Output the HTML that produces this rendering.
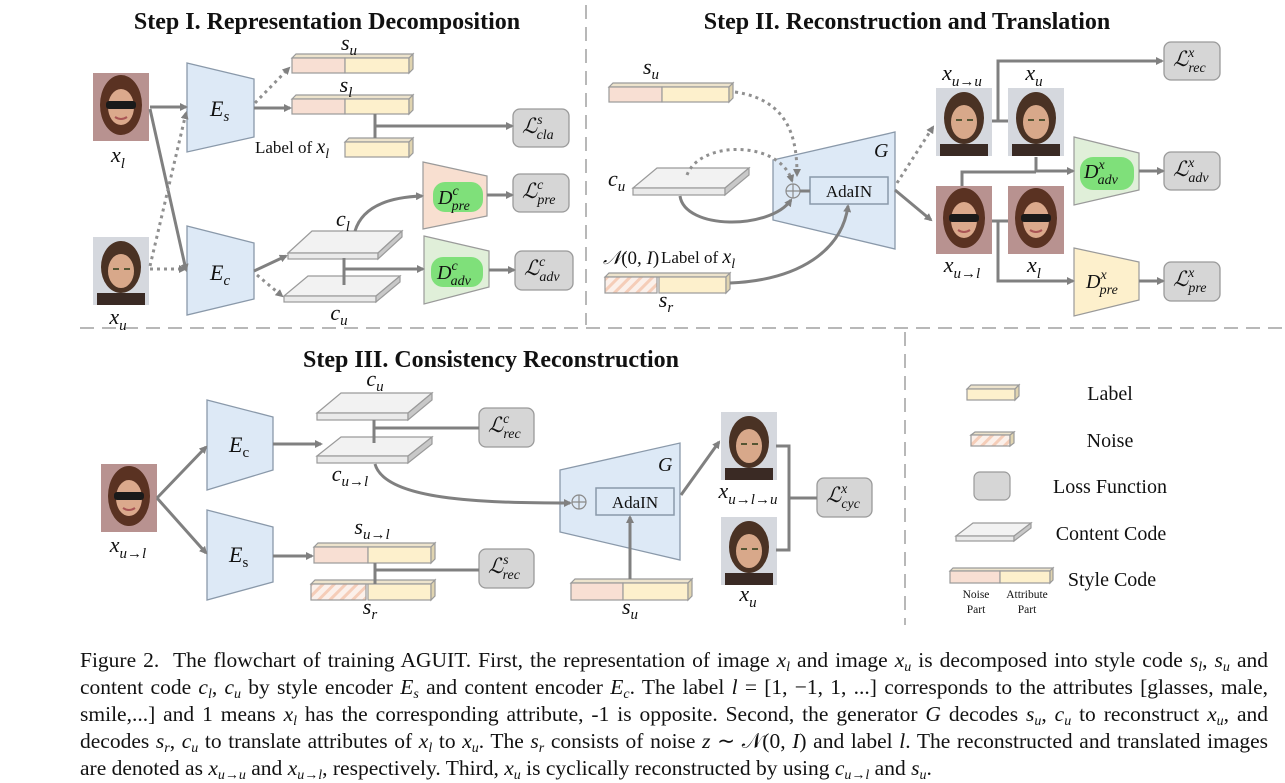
<!DOCTYPE html>
<html><head><meta charset="utf-8"><style>
body{margin:0;background:#fff;width:1285px;height:778px;overflow:hidden;position:relative;font-family:"Liberation Serif",serif}
svg{position:absolute;left:0;top:0}
.cap{position:absolute;left:80px;width:1188px;font-size:21.5px;color:#111;text-align:justify;text-align-last:justify;white-space:nowrap;line-height:22px}
.cap i{font-style:italic}
.cap sub{font-size:14px;vertical-align:-4px;line-height:0}
</style></head><body>
<svg width="1285" height="778" viewBox="0 0 1285 778" font-family="Liberation Serif, serif">
<defs>
<marker id="a" markerWidth="8" markerHeight="8" refX="6" refY="4" orient="auto" markerUnits="userSpaceOnUse" viewBox="0 0 8 8"><path d="M0,0 L8,4 L0,8 z" fill="#808080"/></marker>
<pattern id="h" width="8" height="8" patternUnits="userSpaceOnUse" patternTransform="rotate(45)"><rect width="8" height="8" fill="#fbf0ea"/><rect width="3" height="8" fill="#f5cdb8"/></pattern>
<g id="man"><rect width="56" height="68" fill="#d5d8de"/><ellipse cx="28" cy="30" rx="20" ry="26" fill="#4a3224"/><ellipse cx="28" cy="34" rx="13" ry="17" fill="#d8a88a"/><rect x="4" y="56" width="48" height="12" fill="#3a2a24"/><rect x="20" y="31" width="6" height="2" fill="#553"/><rect x="31" y="31" width="6" height="2" fill="#553"/></g>
<g id="woman"><rect width="56" height="68" fill="#b89290"/><ellipse cx="28" cy="32" rx="21" ry="30" fill="#5a3222"/><ellipse cx="28" cy="34" rx="13" ry="18" fill="#dba98c"/><rect x="13" y="28" width="30" height="8" rx="3" fill="#1a1a1a"/><path d="M22,44 q6,4 12,0" stroke="#a55" stroke-width="2" fill="none"/></g>
</defs>
<g stroke="#b8b8b8" stroke-width="2" stroke-dasharray="14 8" fill="none">
<line x1="586" y1="5" x2="586" y2="325"/><line x1="80" y1="328" x2="1282" y2="328"/><line x1="905" y1="332" x2="905" y2="625"/>
</g>
<g font-weight="bold" font-size="24" text-anchor="middle" fill="#111">
<text x="327" y="29">Step I. Representation Decomposition</text>
<text x="907" y="29">Step II. Reconstruction and Translation</text>
<text x="491" y="367">Step III. Consistency Reconstruction</text>
</g>

<!-- ===== STEP I ===== -->
<use href="#woman" x="93" y="73"/><use href="#man" x="93" y="237"/>
<g font-style="italic" font-size="22" text-anchor="middle" fill="#111">
<text x="118" y="162">x<tspan font-size="15" dy="6">l</tspan></text>
<text x="118" y="324">x<tspan font-size="15" dy="6">u</tspan></text>
</g>
<g fill="#dde9f6" stroke="#8a99aa" stroke-width="1.3">
<polygon points="187,63 254,79 254,137 187,152"/>
<polygon points="187,226 254,243 254,299 187,315"/>
</g>
<g font-style="italic" font-size="22" fill="#111">
<text x="210" y="116">E<tspan font-size="15" dy="5">s</tspan></text>
<text x="210" y="280">E<tspan font-size="15" dy="5">c</tspan></text>
</g>
<g stroke="#9a9a9a" stroke-width="1.2">
<polygon points="292,58 296,54 413,54 409,58" fill="#ede3cc"/>
<rect x="292" y="58" width="53" height="15" fill="#f8dfd3"/><rect x="345" y="58" width="64" height="15" fill="#fdf0cc"/>
<polygon points="409,58 413,54 413,69 409,73" fill="#e0d4b0"/>
<polygon points="292,99 296,95 413,95 409,99" fill="#ede3cc"/>
<rect x="292" y="99" width="53" height="15" fill="#f8dfd3"/><rect x="345" y="99" width="64" height="15" fill="#fdf0cc"/>
<polygon points="409,99 413,95 413,110 409,114" fill="#e0d4b0"/>
<polygon points="345,142 349,138 413,138 409,142" fill="#ede3cc"/>
<rect x="345" y="142" width="64" height="15" fill="#fdf0cc"/>
<polygon points="409,142 413,138 413,153 409,157" fill="#e0d4b0"/>
</g>
<g font-style="italic" font-size="22" fill="#111" text-anchor="middle">
<text x="349" y="50">s<tspan font-size="15" dy="5">u</tspan></text>
<text x="346" y="92">s<tspan font-size="15" dy="5">l</tspan></text>
</g>
<text x="255" y="153" font-size="17" fill="#111">Label of <tspan font-style="italic" font-size="20">x<tspan font-size="14" dy="5">l</tspan></tspan></text>
<g stroke="#9a9a9a" stroke-width="1.2">
<polygon points="288,253 312,231 402,231 378,253" fill="#f2f2f2"/><rect x="288" y="253" width="90" height="6" fill="#eaeaea"/><polygon points="378,253 402,231 402,237 378,259" fill="#c8c8c8"/>
<polygon points="284,296 308,276 400,276 376,296" fill="#f2f2f2"/><rect x="284" y="296" width="92" height="6" fill="#eaeaea"/><polygon points="376,296 400,276 400,282 376,302" fill="#c8c8c8"/>
</g>
<g font-style="italic" font-size="22" fill="#111" text-anchor="middle">
<text x="343" y="226">c<tspan font-size="15" dy="5">l</tspan></text>
<text x="339" y="320">c<tspan font-size="15" dy="5">u</tspan></text>
</g>
<polygon points="423,162 487,176 487,216 423,229" fill="#f8dfd0" stroke="#9a9a9a" stroke-width="1.2"/>
<polygon points="424,236 489,251 489,287 424,304" fill="#e0efd9" stroke="#9a9a9a" stroke-width="1.2"/>
<rect x="433" y="182" width="50" height="30" rx="12" fill="#7fe07a"/>
<rect x="431" y="257" width="52" height="30" rx="12" fill="#7fe07a"/>
<g font-style="italic" font-size="20" fill="#111">
<text x="438" y="204">D<tspan font-size="14" dy="-9">c</tspan><tspan font-size="14" dx="-7" dy="15">pre</tspan></text>
<text x="437" y="279">D<tspan font-size="14" dy="-9">c</tspan><tspan font-size="14" dx="-7" dy="15">adv</tspan></text>
</g>
<g fill="#d6d6d6" stroke="#9a9a9a" stroke-width="1.3">
<rect x="513" y="109" width="56" height="38" rx="7"/><rect x="513" y="174" width="56" height="38" rx="7"/><rect x="515" y="251" width="58" height="39" rx="7"/>
</g>
<g font-style="italic" font-size="21" fill="#111">
<text x="522" y="133">ℒ<tspan font-size="14" dy="-9">s</tspan><tspan font-size="14" dx="-6" dy="15">cla</tspan></text>
<text x="522" y="198">ℒ<tspan font-size="14" dy="-9">c</tspan><tspan font-size="14" dx="-6" dy="15">pre</tspan></text>
<text x="524" y="275">ℒ<tspan font-size="14" dy="-9">c</tspan><tspan font-size="14" dx="-6" dy="15">adv</tspan></text>
</g>
<g stroke="#808080" stroke-width="3" fill="none">
<line x1="150" y1="107" x2="186" y2="107" marker-end="url(#a)"/>
<line x1="150" y1="109" x2="186" y2="270" marker-end="url(#a)"/>
<line x1="254" y1="108" x2="290" y2="108" marker-end="url(#a)"/>
<polyline points="375,114 375,138"/><line x1="375" y1="126" x2="512" y2="126" marker-end="url(#a)"/>
<line x1="254" y1="271" x2="286" y2="256" marker-end="url(#a)"/>
<path d="M355,231 Q365,198 422,196" marker-end="url(#a)"/>
<line x1="344" y1="258" x2="344" y2="285"/><line x1="344" y1="269" x2="423" y2="269" marker-end="url(#a)"/>
<line x1="487" y1="195" x2="512" y2="195" marker-end="url(#a)"/>
<line x1="489" y1="270" x2="514" y2="270" marker-end="url(#a)"/>
</g>
<g stroke="#909090" stroke-width="3" stroke-dasharray="3 4" fill="none">
<line x1="150" y1="269" x2="185" y2="269" marker-end="url(#a)"/>
<line x1="150" y1="266" x2="186" y2="113" marker-end="url(#a)"/>
<line x1="255" y1="103" x2="289" y2="68" marker-end="url(#a)"/>
<line x1="257" y1="275" x2="282" y2="296" marker-end="url(#a)"/>
</g>

<!-- ===== STEP II ===== -->
<g stroke="#9a9a9a" stroke-width="1.2">
<polygon points="609,87 613,83 733,83 729,87" fill="#ede3cc"/>
<rect x="609" y="87" width="53" height="15" fill="#f8dfd3"/><rect x="662" y="87" width="67" height="15" fill="#fdf0cc"/>
<polygon points="729,87 733,83 733,98 729,102" fill="#e0d4b0"/>
<polygon points="633,188 657,168 749,168 725,188" fill="#f2f2f2"/><rect x="633" y="188" width="92" height="7" fill="#eaeaea"/><polygon points="725,188 749,168 749,175 725,195" fill="#c8c8c8"/>
<polygon points="605,277 609,273 730,273 726,277" fill="#ede3cc"/>
<rect x="605" y="277" width="52" height="16" fill="url(#h)"/><rect x="659" y="277" width="67" height="16" fill="#fdf0cc"/>
<polygon points="726,277 730,273 730,289 726,293" fill="#e0d4b0"/>
</g>
<g font-style="italic" font-size="22" fill="#111">
<text x="651" y="74" text-anchor="middle">s<tspan font-size="15" dy="5">u</tspan></text>
<text x="608" y="186">c<tspan font-size="15" dy="5">u</tspan></text>
<text x="666" y="307" text-anchor="middle">s<tspan font-size="15" dy="5">r</tspan></text>
<text x="603" y="264" font-size="19">𝒩<tspan font-style="normal">(0, </tspan>I<tspan font-style="normal">)</tspan></text>
</g>
<text x="661" y="263" font-size="17" fill="#111">Label of <tspan font-style="italic" font-size="20">x<tspan font-size="14" dy="5">l</tspan></tspan></text>
<polygon points="773,160 895,132 895,249 773,220" fill="#dde9f6" stroke="#8a99aa" stroke-width="1.3"/>
<rect x="810" y="177" width="78" height="27" fill="none" stroke="#8a99aa" stroke-width="1.5"/>
<text x="849" y="197" font-size="17" text-anchor="middle" fill="#111">AdaIN</text>
<circle cx="793" cy="191" r="7" fill="none" stroke="#8a8a8a" stroke-width="1.2"/><path d="M786,191 h14 M793,184 v14" stroke="#8a8a8a" stroke-width="1.2"/>
<text x="874" y="157" font-style="italic" font-size="20" fill="#111">G</text>
<g stroke="#808080" stroke-width="3" fill="none">
<path d="M680,196 C685,230 770,230 791,200" marker-end="url(#a)"/>
<path d="M730,283 C800,280 842,250 848,206" marker-end="url(#a)"/>
<line x1="800" y1="191" x2="810" y2="191"/>
<line x1="895" y1="190" x2="931" y2="220" marker-end="url(#a)"/>
</g>
<g stroke="#909090" stroke-width="3" stroke-dasharray="3 4" fill="none">
<path d="M735,92 C790,100 797,140 797,175" marker-end="url(#a)"/>
<path d="M687,175 C700,140 780,140 792,181" marker-end="url(#a)"/>
<line x1="897" y1="183" x2="933" y2="127" marker-end="url(#a)"/>
</g>
<use href="#man" x="936" y="88"/><use href="#man" x="1008" y="88"/>
<use href="#woman" x="936" y="186"/><use href="#woman" x="1008" y="186"/>
<g font-style="italic" font-size="22" fill="#111" text-anchor="middle">
<text x="962" y="80">x<tspan font-size="15" dy="6">u→u</tspan></text>
<text x="1034" y="80">x<tspan font-size="15" dy="6">u</tspan></text>
<text x="962" y="272">x<tspan font-size="15" dy="6">u→l</tspan></text>
<text x="1034" y="272">x<tspan font-size="15" dy="6">l</tspan></text>
</g>
<polygon points="1074,137 1139,153 1139,190 1074,205" fill="#e0efd9" stroke="#9a9a9a" stroke-width="1.2"/>
<polygon points="1074,248 1139,262 1139,300 1074,316" fill="#fdf0cc" stroke="#9a9a9a" stroke-width="1.2"/>
<rect x="1080" y="157" width="54" height="33" rx="13" fill="#7fe07a"/>
<g font-style="italic" font-size="20" fill="#111">
<text x="1084" y="178">D<tspan font-size="14" dy="-9">x</tspan><tspan font-size="14" dx="-7" dy="15">adv</tspan></text>
<text x="1086" y="288">D<tspan font-size="14" dy="-9">x</tspan><tspan font-size="14" dx="-7" dy="15">pre</tspan></text>
</g>
<g fill="#d6d6d6" stroke="#9a9a9a" stroke-width="1.3">
<rect x="1164" y="42" width="56" height="38" rx="7"/><rect x="1164" y="152" width="56" height="38" rx="7"/><rect x="1164" y="262" width="56" height="39" rx="7"/>
</g>
<g font-style="italic" font-size="21" fill="#111">
<text x="1173" y="66">ℒ<tspan font-size="14" dy="-9">x</tspan><tspan font-size="14" dx="-6" dy="15">rec</tspan></text>
<text x="1173" y="176">ℒ<tspan font-size="14" dy="-9">x</tspan><tspan font-size="14" dx="-6" dy="15">adv</tspan></text>
<text x="1173" y="286">ℒ<tspan font-size="14" dy="-9">x</tspan><tspan font-size="14" dx="-6" dy="15">pre</tspan></text>
</g>
<g stroke="#808080" stroke-width="3" fill="none">
<line x1="992" y1="121" x2="1008" y2="121"/><polyline points="998,121 998,61 1162,61" marker-end="url(#a)"/>
<polyline points="1036,157 1036,171 1073,171" marker-end="url(#a)"/>
<polyline points="962,186 962,172 1036,172"/>
<line x1="992" y1="221" x2="1008" y2="221"/><polyline points="998,221 998,281 1073,281" marker-end="url(#a)"/>
<line x1="1139" y1="171" x2="1163" y2="171" marker-end="url(#a)"/>
<line x1="1139" y1="281" x2="1163" y2="281" marker-end="url(#a)"/>
</g>

<!-- ===== STEP III ===== -->
<use href="#woman" x="101" y="464"/>
<text x="128" y="552" font-style="italic" font-size="22" fill="#111" text-anchor="middle">x<tspan font-size="15" dy="6">u→l</tspan></text>
<g fill="#dde9f6" stroke="#8a99aa" stroke-width="1.3">
<polygon points="207,400 273,417 273,470 207,490"/>
<polygon points="207,510 273,527 273,582 207,600"/>
</g>
<g font-style="italic" font-size="22" fill="#111">
<text x="229" y="452">E<tspan font-style="normal" font-size="15" dy="5">c</tspan></text>
<text x="229" y="562">E<tspan font-style="normal" font-size="15" dy="5">s</tspan></text>
</g>
<g stroke="#9a9a9a" stroke-width="1.2">
<polygon points="317,413 341,393 432,393 408,413" fill="#f2f2f2"/><rect x="317" y="413" width="91" height="7" fill="#eaeaea"/><polygon points="408,413 432,393 432,400 408,420" fill="#c8c8c8"/>
<polygon points="317,456 341,437 432,437 408,456" fill="#f2f2f2"/><rect x="317" y="456" width="91" height="7" fill="#eaeaea"/><polygon points="408,456 432,437 432,444 408,463" fill="#c8c8c8"/>
<polygon points="314,547 318,543 435,543 431,547" fill="#ede3cc"/>
<rect x="314" y="547" width="54" height="16" fill="#f8dfd3"/><rect x="368" y="547" width="63" height="16" fill="#fdf0cc"/>
<polygon points="431,547 435,543 435,559 431,563" fill="#e0d4b0"/>
<polygon points="311,584 315,580 435,580 431,584" fill="#ede3cc"/>
<rect x="311" y="584" width="55" height="16" fill="url(#h)"/><rect x="368" y="584" width="63" height="16" fill="#fdf0cc"/>
<polygon points="431,584 435,580 435,596 431,600" fill="#e0d4b0"/>
<polygon points="571,583 575,579 692,579 688,583" fill="#ede3cc"/>
<rect x="571" y="583" width="52" height="17" fill="#f8dfd3"/><rect x="623" y="583" width="65" height="17" fill="#fdf0cc"/>
<polygon points="688,583 692,579 692,596 688,600" fill="#e0d4b0"/>
</g>
<g font-style="italic" font-size="22" fill="#111" text-anchor="middle">
<text x="375" y="386">c<tspan font-size="15" dy="5">u</tspan></text>
<text x="350" y="481">c<tspan font-size="15" dy="5">u→l</tspan></text>
<text x="372" y="534">s<tspan font-size="15" dy="5">u→l</tspan></text>
<text x="370" y="614">s<tspan font-size="15" dy="5">r</tspan></text>
<text x="630" y="614">s<tspan font-size="15" dy="5">u</tspan></text>
</g>
<g fill="#d6d6d6" stroke="#9a9a9a" stroke-width="1.3">
<rect x="479" y="408" width="55" height="39" rx="7"/><rect x="479" y="549" width="55" height="39" rx="7"/><rect x="817" y="478" width="55" height="39" rx="7"/>
</g>
<g font-style="italic" font-size="21" fill="#111">
<text x="488" y="432">ℒ<tspan font-size="14" dy="-9">c</tspan><tspan font-size="14" dx="-6" dy="15">rec</tspan></text>
<text x="488" y="573">ℒ<tspan font-size="14" dy="-9">s</tspan><tspan font-size="14" dx="-6" dy="15">rec</tspan></text>
<text x="826" y="502">ℒ<tspan font-size="14" dy="-9">x</tspan><tspan font-size="14" dx="-6" dy="15">cyc</tspan></text>
</g>
<polygon points="560,470 680,443 680,560 560,532" fill="#dde9f6" stroke="#8a99aa" stroke-width="1.3"/>
<rect x="596" y="488" width="78" height="27" fill="none" stroke="#8a99aa" stroke-width="1.5"/>
<text x="635" y="508" font-size="17" text-anchor="middle" fill="#111">AdaIN</text>
<circle cx="579" cy="502" r="7" fill="none" stroke="#8a8a8a" stroke-width="1.2"/><path d="M572,502 h14 M579,495 v14" stroke="#8a8a8a" stroke-width="1.2"/>
<text x="658" y="471" font-style="italic" font-size="20" fill="#111">G</text>
<use href="#man" x="721" y="412"/><use href="#man" x="721" y="517"/>
<g font-style="italic" font-size="22" fill="#111" text-anchor="middle">
<text x="748" y="498">x<tspan font-size="15" dy="6">u→l→u</tspan></text>
<text x="748" y="601">x<tspan font-size="15" dy="6">u</tspan></text>
</g>
<g stroke="#808080" stroke-width="3" fill="none">
<line x1="157" y1="498" x2="206" y2="447" marker-end="url(#a)"/>
<line x1="157" y1="498" x2="206" y2="553" marker-end="url(#a)"/>
<line x1="273" y1="444" x2="321" y2="444" marker-end="url(#a)"/>
<line x1="273" y1="556" x2="312" y2="556" marker-end="url(#a)"/>
<line x1="374" y1="420" x2="374" y2="443"/><line x1="374" y1="428" x2="479" y2="428"/>
<line x1="375" y1="563" x2="375" y2="584"/><line x1="375" y1="570" x2="479" y2="570"/>
<path d="M375,464 C385,500 480,503 570,503" marker-end="url(#a)"/>
<line x1="630" y1="579" x2="630" y2="517" marker-end="url(#a)"/>
<line x1="681" y1="495" x2="719" y2="442" marker-end="url(#a)"/>
<polyline points="776,446 789,446 789,550 776,550"/><line x1="789" y1="498" x2="817" y2="498"/>
</g>

<!-- legend -->
<g stroke="#9a9a9a" stroke-width="1.2">
<polygon points="967,389 971,385 1019,385 1015,389" fill="#ede3cc"/><rect x="967" y="389" width="48" height="11" fill="#fdf0cc"/><polygon points="1015,389 1019,385 1019,396 1015,400" fill="#e0d4b0"/>
<polygon points="971,435 975,432 1014,432 1010,435" fill="#ede3cc"/><rect x="971" y="435" width="39" height="11" fill="url(#h)"/><polygon points="1010,435 1014,432 1014,443 1010,446" fill="#e0d4b0"/>
<rect x="974" y="472" width="36" height="28" rx="6" fill="#d6d6d6"/>
<polygon points="956,536 973,523 1031,523 1014,536" fill="#f2f2f2"/><rect x="956" y="536" width="58" height="5" fill="#eaeaea"/><polygon points="1014,536 1031,523 1031,528 1014,541" fill="#c8c8c8"/>
<polygon points="950,571 953,568 1053,568 1050,571" fill="#ede3cc"/><rect x="950" y="571" width="50" height="12" fill="#f8dfd3"/><rect x="1000" y="571" width="50" height="12" fill="#fdf0cc"/><polygon points="1050,571 1053,568 1053,580 1050,583" fill="#e0d4b0"/>
</g>
<g font-size="20" fill="#111" text-anchor="middle">
<text x="1110" y="400">Label</text><text x="1110" y="447">Noise</text>
<text x="1110" y="493">Loss Function</text><text x="1111" y="540">Content Code</text><text x="1112" y="586">Style Code</text>
</g>
<g font-size="11.5" fill="#111" text-anchor="middle">
<text x="976" y="598">Noise</text><text x="976" y="613">Part</text>
<text x="1027" y="598">Attribute</text><text x="1027" y="613">Part</text>
</g>
</svg>
<div class="cap" style="top:649px">Figure 2.&nbsp; The flowchart of training AGUIT. First, the representation of image <i>x</i><sub><i>l</i></sub> and image <i>x</i><sub><i>u</i></sub> is decomposed into style code <i>s</i><sub><i>l</i></sub>, <i>s</i><sub><i>u</i></sub> and</div>
<div class="cap" style="top:676px">content code <i>c</i><sub><i>l</i></sub>, <i>c</i><sub><i>u</i></sub> by style encoder <i>E</i><sub><i>s</i></sub> and content encoder <i>E</i><sub><i>c</i></sub>. The label <i>l</i> = [1, −1, 1, ...] corresponds to the attributes [glasses, male,</div>
<div class="cap" style="top:703px">smile,...] and 1 means <i>x</i><sub><i>l</i></sub> has the corresponding attribute, -1 is opposite. Second, the generator <i>G</i> decodes <i>s</i><sub><i>u</i></sub>, <i>c</i><sub><i>u</i></sub> to reconstruct <i>x</i><sub><i>u</i></sub>, and</div>
<div class="cap" style="top:730px">decodes <i>s</i><sub><i>r</i></sub>, <i>c</i><sub><i>u</i></sub> to translate attributes of <i>x</i><sub><i>l</i></sub> to <i>x</i><sub><i>u</i></sub>. The <i>s</i><sub><i>r</i></sub> consists of noise <i>z</i> ∼ 𝒩(0, <i>I</i>) and label <i>l</i>. The reconstructed and translated images</div>
<div class="cap" style="top:757px;text-align-last:left;text-align:left">are denoted as <i>x</i><sub><i>u</i>→<i>u</i></sub> and <i>x</i><sub><i>u</i>→<i>l</i></sub>, respectively. Third, <i>x</i><sub><i>u</i></sub> is cyclically reconstructed by using <i>c</i><sub><i>u</i>→<i>l</i></sub> and <i>s</i><sub><i>u</i></sub>.</div>
</body></html>
